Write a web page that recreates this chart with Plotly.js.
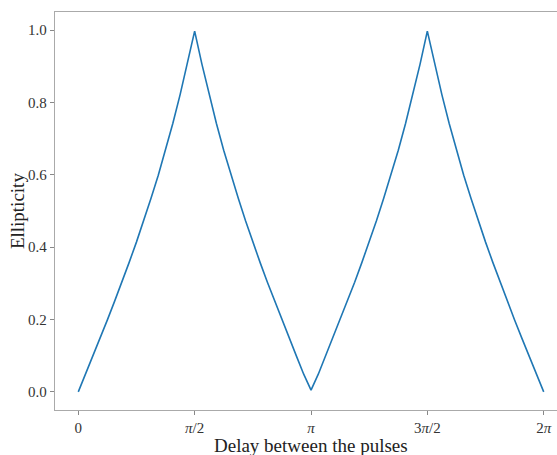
<!DOCTYPE html>
<html>
<head>
<meta charset="utf-8">
<script src="https://cdn.plot.ly/plotly-3.0.1.min.js"></script>
<style>
html, body { margin: 0; padding: 0; overflow: hidden; background: #fff; }
#chart { width: 580px; height: 455px; }
</style>
</head>
<body>
<div id="chart"></div>
<script>
// Delay between the pulses (radians), sampled every pi/32
var delay = [0.000, 0.098, 0.196, 0.295, 0.393, 0.491, 0.589, 0.687, 0.785,
             0.884, 0.982, 1.080, 1.178, 1.276, 1.374, 1.473, 1.571,
             1.669, 1.767, 1.865, 1.963, 2.062, 2.160, 2.258, 2.356,
             2.454, 2.553, 2.651, 2.749, 2.847, 2.945, 3.043, 3.142,
             3.240, 3.338, 3.436, 3.534, 3.632, 3.731, 3.829, 3.927,
             4.025, 4.123, 4.221, 4.320, 4.418, 4.516, 4.614, 4.712,
             4.810, 4.909, 5.007, 5.105, 5.203, 5.301, 5.400, 5.498,
             5.596, 5.694, 5.792, 5.890, 5.989, 6.087, 6.185, 6.283];
// Ellipticity
var ellipticity = [0.000, 0.049, 0.099, 0.148, 0.199, 0.251, 0.303, 0.358, 0.414,
                   0.473, 0.535, 0.599, 0.668, 0.742, 0.821, 0.906, 0.997,
                   0.906, 0.821, 0.742, 0.668, 0.599, 0.535, 0.473, 0.414,
                   0.358, 0.303, 0.251, 0.199, 0.148, 0.099, 0.049, 0.005,
                   0.049, 0.099, 0.148, 0.199, 0.251, 0.303, 0.358, 0.414,
                   0.473, 0.535, 0.599, 0.668, 0.742, 0.821, 0.906, 0.997,
                   0.906, 0.821, 0.742, 0.668, 0.599, 0.535, 0.473, 0.414,
                   0.358, 0.303, 0.251, 0.199, 0.148, 0.099, 0.049, 0.000];
var xTickVals = [0, 1.5708, 3.1416, 4.7124, 6.2832];
var xTickText = ['0', '<i>π</i>/2', '<i>π</i>', '3<i>π</i>/2', '2<i>π</i>'];
var yTickVals = [0, 0.2, 0.4, 0.6, 0.8, 1.0];
var yTickText = ['0.0', '0.2', '0.4', '0.6', '0.8', '1.0'];
var xTitle = 'Delay between the pulses';
var yTitle = 'Ellipticity';

var serif = 'Liberation Serif, Times New Roman, serif';
var trace = {
  x: delay, y: ellipticity, type: 'scatter', mode: 'lines',
  line: { color: '#1f77b4', width: 1.6 }, hoverinfo: 'skip'
};
var axisCommon = {
  showgrid: false, zeroline: false, showline: true, mirror: true,
  linecolor: '#aaaaaa', linewidth: 1.2,
  ticks: 'outside', ticklen: 4, tickwidth: 1, tickcolor: '#888888',
  tickfont: { family: serif, size: 15, color: '#333333' }
};
var layout = {
  width: 580, height: 455,
  margin: { l: 55, r: 13, t: 12, b: 45 },
  paper_bgcolor: '#ffffff', plot_bgcolor: '#ffffff',
  showlegend: false,
  xaxis: Object.assign({}, axisCommon, {
    range: [-0.3142, 6.5974],
    tickmode: 'array', tickvals: xTickVals, ticktext: xTickText
  }),
  yaxis: Object.assign({}, axisCommon, {
    range: [-0.05, 1.05],
    tickmode: 'array', tickvals: yTickVals, ticktext: yTickText
  }),
  annotations: [
    { text: xTitle, xref: 'paper', yref: 'paper', x: 0.5, y: -0.088,
      xanchor: 'center', yanchor: 'middle', showarrow: false,
      font: { family: serif, size: 19, color: '#222222' } },
    { text: yTitle, xref: 'paper', yref: 'paper', x: -0.074, y: 0.5,
      xanchor: 'center', yanchor: 'middle', textangle: -90, showarrow: false,
      font: { family: serif, size: 19, color: '#222222' } }
  ]
};
Plotly.newPlot('chart', [trace], layout, { staticPlot: true, displayModeBar: false });
</script>
</body>
</html>
